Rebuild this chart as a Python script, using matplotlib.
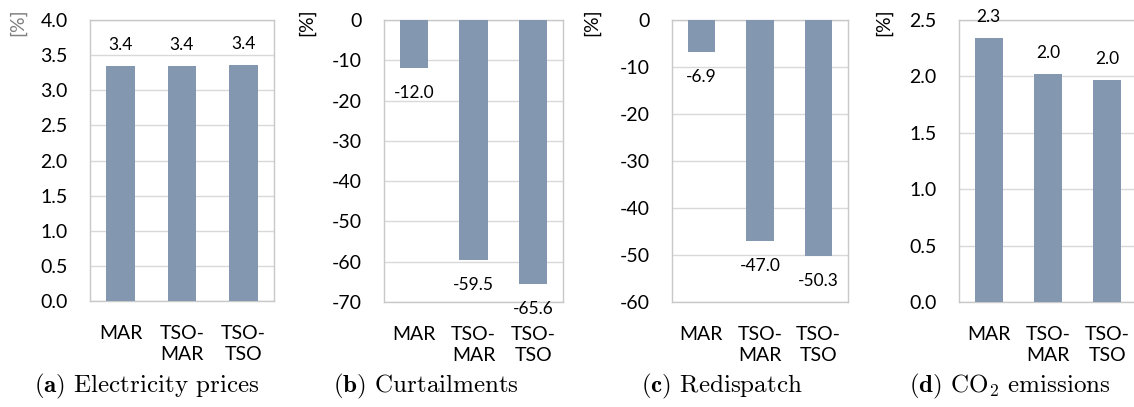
import matplotlib
matplotlib.use('Agg')
import matplotlib.pyplot as plt
from matplotlib.ticker import MultipleLocator, FormatStrFormatter

plt.rcParams['font.family'] = ['Lato', 'DejaVu Sans']
plt.rcParams['axes.unicode_minus'] = False
plt.rcParams['mathtext.fontset'] = 'cm'

categories = ['MAR', 'TSO-\nMAR', 'TSO-\nTSO']

prices = [3.35, 3.35, 3.36]
curtailments = [-12.0, -59.5, -65.6]
redispatch = [-6.9, -47.0, -50.3]
co2 = [2.34, 2.02, 1.97]

captions = [r'$\mathbf{(a)}$ Electricity prices',
            r'$\mathbf{(b)}$ Curtailments',
            r'$\mathbf{(c)}$ Redispatch',
            r'$\mathbf{(d)}$ CO$_2$ emissions']

W, H = 1134, 407
bar_color = '#8497B0'
grid_color = '#D9D9D9'

# pixel boxes: left, right, top, bottom
boxes = [(90, 274, 20, 301), (384, 563, 20, 302), (672, 848, 20, 302), (959, 1137, 20, 302)]
limits = [(0, 4.0, 0.5, '%.1f'), (-70, 0, 10, '%d'), (-60, 0, 10, '%d'), (0, 2.5, 0.5, '%.1f')]
unit_x = [18, 307, 592, 884]
caption_x = [147, 426, 722, 1010]
series = [prices, curtailments, redispatch, co2]

fig = plt.figure(figsize=(W / 100, H / 100), dpi=100)

for i, vals in enumerate(series):
    l, r, t, b = boxes[i]
    ax = fig.add_axes([l / W, 1 - b / H, (r - l) / W, (b - t) / H])
    x = range(len(categories))
    ax.bar(x, vals, width=0.47, color=bar_color, zorder=3)
    lo, hi, step, fmt = limits[i]
    ax.set_ylim(lo, hi)
    ax.set_xlim(-0.5, 2.5)
    ax.yaxis.set_major_locator(MultipleLocator(step))
    ax.yaxis.set_major_formatter(FormatStrFormatter(fmt))
    ax.set_xticks(list(x))
    ax.set_xticklabels(categories, fontsize=14, linespacing=1.3, va='top')
    ax.tick_params(axis='both', length=0, labelsize=14)
    ax.tick_params(axis='y', pad=16)
    ax.tick_params(axis='x', pad=17)
    ax.grid(axis='y', color=grid_color, linewidth=1, zorder=0)
    for s in ax.spines.values():
        s.set_color('#C8C8C8')
        s.set_linewidth(1)
    for xi, v in zip(x, vals):
        off = 15 if v >= 0 else -18
        ax.annotate(f'{v:.1f}', (xi, v), xytext=(0, off), textcoords='offset points',
                    ha='center', va='center', fontsize=12.5, annotation_clip=False)
    fig.text(unit_x[i] / W, 1 - 22 / H, '[%]', rotation=90, ha='center', va='center',
             fontsize=14, color='#7F7F7F' if i == 0 else 'black')
    fig.text(caption_x[i] / W, 1 - 386 / H, captions[i], ha='center', va='center',
             fontsize=18, family='cmr10')

fig.savefig('out.png', dpi=100)
